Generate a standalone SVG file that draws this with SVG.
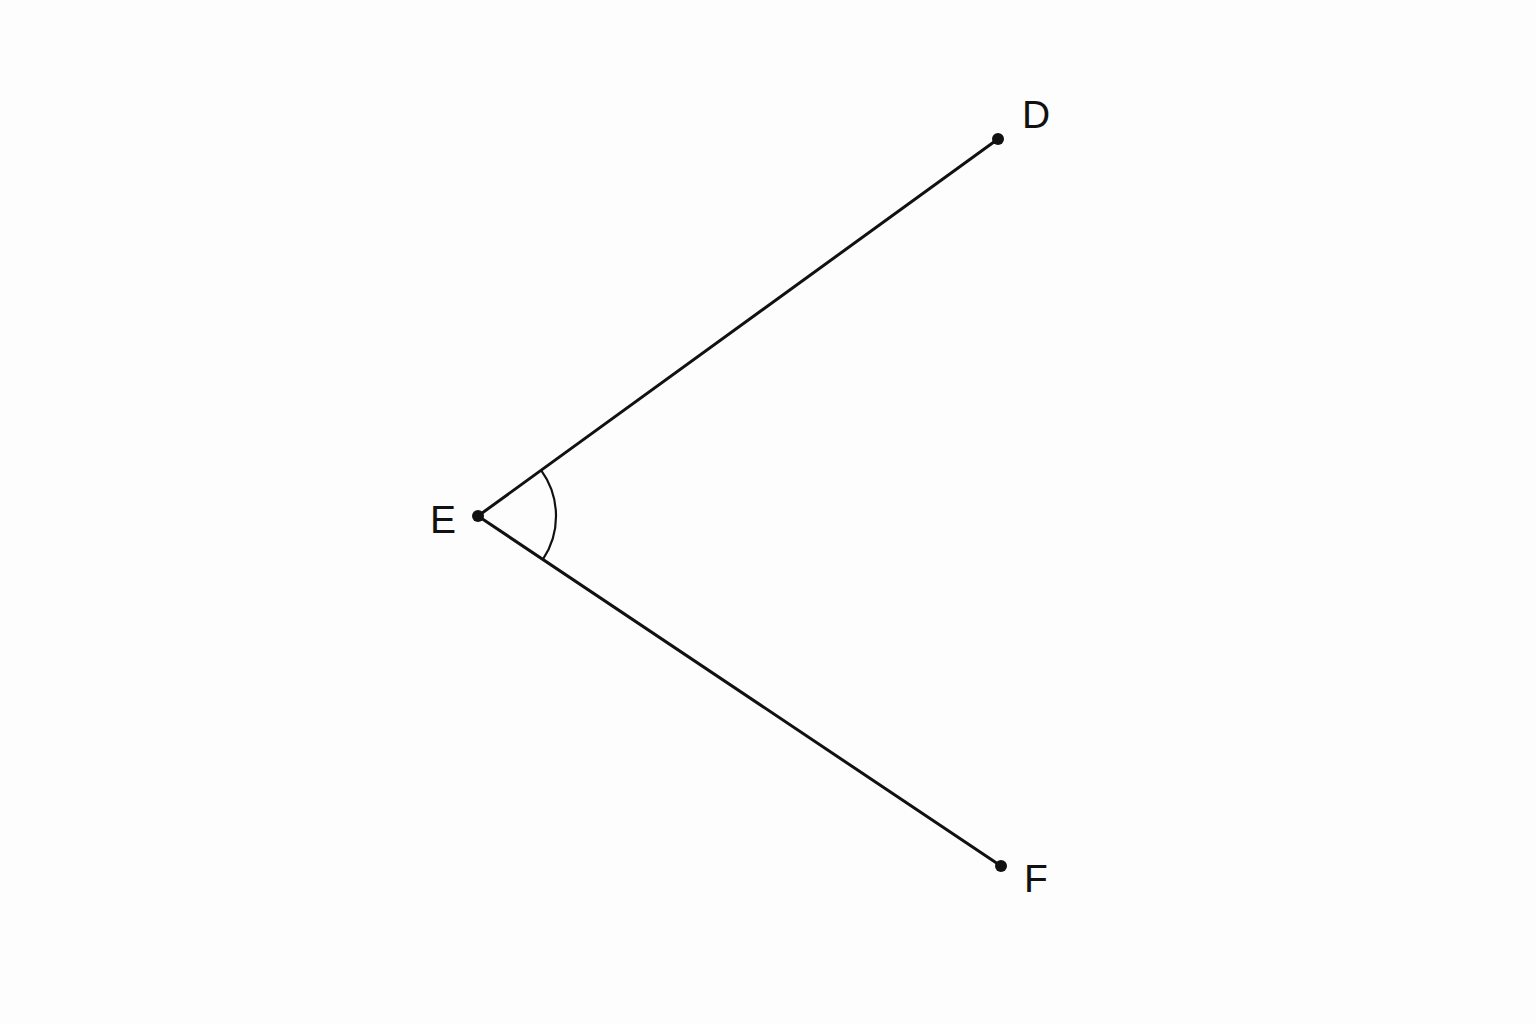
<svg xmlns="http://www.w3.org/2000/svg" width="1536" height="1024" viewBox="0 0 1536 1024">
<style>
.seg{stroke:#111;stroke-width:3;fill:none;stroke-linecap:round}
.arc{stroke:#111;stroke-width:2.2;fill:none}
.pt{fill:#111}
.lbl{font-family:"Liberation Sans",Arial,sans-serif;font-size:39px;fill:#111}
</style>
<rect width="1536" height="1024" fill="#fdfdfd"/>
<g id="connectors">
<line class="seg" x1="478" y1="516" x2="998" y2="139"/>
<line class="seg" x1="478" y1="516" x2="1001" y2="866"/>
<path class="arc" d="M541.2 470.3 A78 78 0 0 1 542.9 559.3"/>
</g>
<g id="node-D">
<circle class="pt" cx="998" cy="139" r="6"/>
<text class="lbl" x="1022" y="128">D</text>
</g>
<g id="node-E">
<circle class="pt" cx="478" cy="516" r="6"/>
<text class="lbl" x="430" y="533">E</text>
</g>
<g id="node-F">
<circle class="pt" cx="1001" cy="866" r="6"/>
<text class="lbl" x="1024" y="892">F</text>
</g>
</svg>
